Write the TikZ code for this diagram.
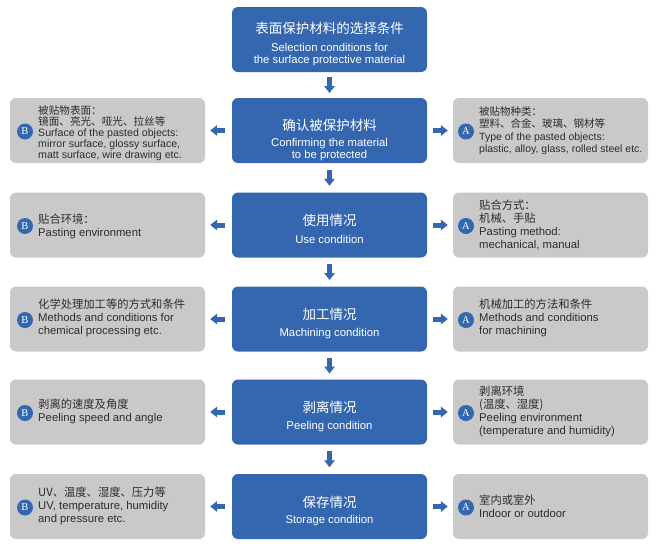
\documentclass[tikz,border=0pt]{standalone}
\usepackage{fontspec}
\setmainfont{Liberation Sans}
\newfontfamily\zhfont{Noto Sans CJK SC}
\newfontfamily\badgefont{Liberation Serif}
\usetikzlibrary{arrows.meta,calc}
\definecolor{pblue}{RGB}{53,103,177}
\definecolor{pgray}{RGB}{201,201,201}
\definecolor{ptext}{RGB}{45,45,45}
\tikzset{
  bluebox/.style={fill=pblue, rounded corners=6pt, minimum width=195pt, minimum height=65pt, inner sep=0pt},
  graybox/.style={fill=pgray, rounded corners=6pt, minimum width=195pt, minimum height=65pt, inner sep=0pt},
  zhtitle/.style={text=white, font=\zhfont\fontsize{13.5}{16}\selectfont, inner sep=0pt},
  entitle/.style={text=white, font=\fontsize{11.3}{11.3}\selectfont, align=center, inner sep=0pt},
  graytext/.style={text=ptext, font=\fontsize{11.3}{13}\selectfont, align=left, anchor=west, inner sep=0pt},
  badge/.style={circle, fill=pblue, minimum size=16pt, inner sep=0pt, text=white, font=\badgefont\fontsize{10.5}{10.5}\selectfont},
  flowarrow/.style={draw=pblue, line width=5pt, -{Triangle[width=10.5pt,length=7pt]}}
}
\begin{document}
\begin{tikzpicture}[x=1pt,y=-1pt]
\useasboundingbox (0,0) rectangle (669,550);
% blue boxes
\node[bluebox] (b0) at (329.5,39.5) {};
\node[bluebox] (b1) at (329.5,130.5) {};
\node[bluebox] (b2) at (329.5,225) {};
\node[bluebox] (b3) at (329.5,319) {};
\node[bluebox] (b4) at (329.5,412) {};
\node[bluebox] (b5) at (329.5,506.5) {};
\node[zhtitle] (b0zh) at (329.5,28) {表面保护材料的选择条件};
\node[entitle] (b0en) at (329.5,54.5) {Selection conditions for\\the surface protective material};
\node[zhtitle] (b1zh) at (329.5,125) {确认被保护材料};
\node[entitle] (b1en) at (329.5,149.5) {Confirming the material\\to be protected};
\node[zhtitle] (b2zh) at (329.5,220.5) {使用情况};
\node[entitle] (b2en) at (329.5,239.5) {Use condition};
\node[zhtitle] (b3zh) at (329.5,314.5) {加工情况};
\node[entitle] (b3en) at (329.5,333.5) {Machining condition};
\node[zhtitle] (b4zh) at (329.5,407.5) {剥离情况};
\node[entitle] (b4en) at (329.5,426.5) {Peeling condition};
\node[zhtitle] (b5zh) at (329.5,502) {保存情况};
\node[entitle] (b5en) at (329.5,521) {Storage condition};
% gray boxes
\foreach \i/\y in {1/130.5,2/225,3/319,4/412,5/506.5}{
  \node[graybox] (l\i) at (107.5,\y) {};
  \node[graybox] (r\i) at (550.5,\y) {};
  \node[badge] (lb\i) at (25,\y+1) {B};
  \node[badge] (rb\i) at (466,\y+1) {A};
}
\node[graytext, font=\fontsize{10.6}{10.9}\selectfont] (lt1) at (38,133) {{\zhfont 被贴物表面：}\\{\zhfont 镜面、亮光、哑光、拉丝等}\\Surface of the pasted objects:\\mirror surface, glossy surface,\\matt surface, wire drawing etc.};
\node[graytext] (lt2) at (38,226) {{\zhfont 贴合环境：}\\Pasting environment};
\node[graytext] (lt3) at (38,318) {{\zhfont 化学处理加工等的方式和条件}\\Methods and conditions for\\chemical processing etc.};
\node[graytext] (lt4) at (38,411) {{\zhfont 剥离的速度及角度}\\Peeling speed and angle};
\node[graytext] (lt5) at (38,505.5) {{\zhfont UV、温度、湿度、压力等}\\UV, temperature, humidity\\and pressure etc.};
\node[graytext, font=\fontsize{10.5}{12.5}\selectfont] (rt1) at (479,130.5) {{\zhfont 被贴物种类：}\\{\zhfont 塑料、合金、玻璃、钢材等}\\Type of the pasted objects:\\plastic, alloy, glass, rolled steel etc.};
\node[graytext] (rt2) at (479,225) {{\zhfont 贴合方式：}\\{\zhfont 机械、手贴}\\Pasting method:\\mechanical, manual};
\node[graytext] (rt3) at (479,318) {{\zhfont 机械加工的方法和条件}\\Methods and conditions\\for machining};
\node[graytext] (rt4) at (479,411) {{\zhfont 剥离环境}\\{\zhfont (温度、湿度)}\\Peeling environment\\(temperature and humidity)};
\node[graytext] (rt5) at (479,506) {{\zhfont 室内或室外}\\Indoor or outdoor};
% arrows
\foreach \a/\b in {0/1,1/2,2/3,3/4,4/5}{
  \draw[flowarrow] ($(b\a.south)!.5!(b\b.north)+(0,-8)$) -- ($(b\a.south)!.5!(b\b.north)+(0,8)$);
}
\foreach \i in {1,...,5}{
  \draw[flowarrow] ([xshift=-6.5pt]b\i.west) -- ([xshift=5pt]l\i.east);
  \draw[flowarrow] ([xshift=6pt]b\i.east) -- ([xshift=-5pt]r\i.west);
}
\end{tikzpicture}
\end{document}
